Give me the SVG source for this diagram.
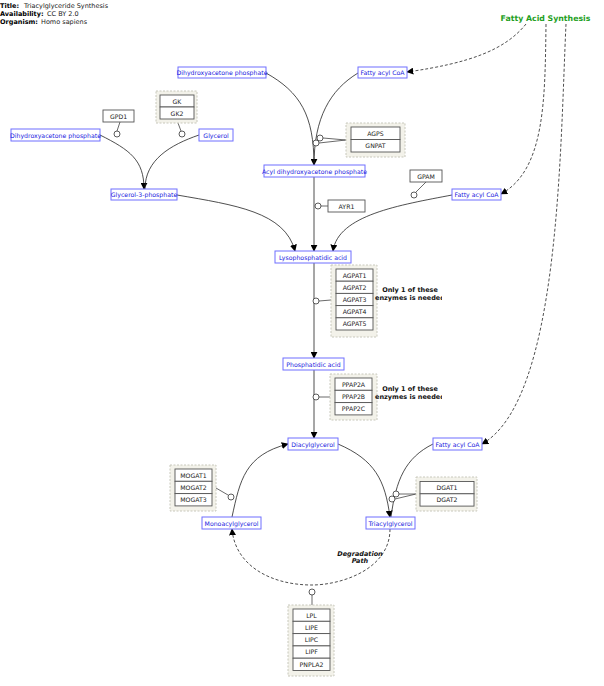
<svg xmlns="http://www.w3.org/2000/svg" width="604" height="686" viewBox="0 0 604 686">
<style>
text{font-family:"DejaVu Sans","Liberation Sans",sans-serif}
.hdr{font-size:6.5px;fill:#222}
.hb{font-weight:bold;fill:#000}
.node rect{fill:#fff;stroke:#6f6fff;stroke-width:1}
.node text{font-size:6.2px;fill:#2020e0;text-anchor:middle}
.gene rect.grp{fill:#f3f2ea;stroke:#c8c8bc;stroke-width:1;stroke-dasharray:2,1.5}
.gene rect{fill:#fff;stroke:#555;stroke-width:0.9}
.gene text{font-size:6.2px;fill:#222;text-anchor:middle}
.edge{fill:none;stroke:#222;stroke-width:0.8}
.dash{fill:none;stroke:#222;stroke-width:0.8;stroke-dasharray:3,2}
.cat{fill:none;stroke:#444;stroke-width:0.8}
.cc{fill:#fff;stroke:#333;stroke-width:0.8}
.note{font-size:6.5px;font-weight:bold;fill:#111}
</style>
<defs>
<marker id="arr" viewBox="0 0 10 10" refX="9" refY="5" markerWidth="7" markerHeight="7" markerUnits="userSpaceOnUse" orient="auto">
<path d="M0,0 L10,5 L0,10 z" fill="#000"/>
</marker>
<clipPath id="noteclip"><rect x="300" y="270" width="142" height="160"/></clipPath>
</defs>

<g id="header">
<text class="hdr hb" x="0" y="8">Title:</text><text class="hdr" x="24" y="8">Triacylglyceride Synthesis</text>
<text class="hdr hb" x="0" y="16">Availability:</text><text class="hdr" x="47" y="16">CC BY 2.0</text>
<text class="hdr hb" x="0" y="24">Organism:</text><text class="hdr" x="41" y="24">Homo sapiens</text>
</g>

<g id="connectors">
<path class="edge" d="M100,135 C130,150 144,160 144,189" marker-end="url(#arr)"/>
<path class="edge" d="M199,135 C170,145 145,160 145,189"/>
<path class="edge" d="M177,195 C235,205 285,212 295,251" marker-end="url(#arr)"/>
<path class="edge" d="M266,73 C300,92 314,115 314,165" marker-end="url(#arr)"/>
<path class="edge" d="M358,73 C330,90 314,118 314,165"/>
<path class="edge" d="M314,177 L314,251" marker-end="url(#arr)"/>
<path class="edge" d="M452,195 C400,205 338,215 333,251" marker-end="url(#arr)"/>
<path class="edge" d="M314,263 L314,358" marker-end="url(#arr)"/>
<path class="edge" d="M314,370 L314,438" marker-end="url(#arr)"/>
<path class="edge" d="M232,517 C240,480 245,455 288,444" marker-end="url(#arr)"/>
<path class="edge" d="M338,444 C375,460 385,480 390,517" marker-end="url(#arr)"/>
<path class="edge" d="M433,444 C405,458 396,480 391,517"/>
<path class="dash" d="M390,529 C390,570 340,585 312,585 C270,585 235,565 232,529" marker-end="url(#arr)"/>
<path class="dash" d="M526,24 C505,50 470,63 407,72" marker-end="url(#arr)"/>
<path class="dash" d="M546,24 C545,100 545,170 501,194" marker-end="url(#arr)"/>
<path class="dash" d="M566,24 C560,150 560,400 482,444" marker-end="url(#arr)"/>
<path class="cat" d="M120,122 L117,131"/>
<path class="cat" d="M178,123 L181,131"/>
<path class="cat" d="M346,140 L323,138 M346,140 L319,143"/>
<path class="cat" d="M426,182 L416,192"/>
<path class="cat" d="M328,206 L321,206"/>
<path class="cat" d="M331,300 L319,301"/>
<path class="cat" d="M330,397 L319,397"/>
<path class="cat" d="M216,488 L228,495"/>
<path class="cat" d="M416,494 L399,494 M416,494 L395,499"/>
<path class="cat" d="M312,605 L312,595" stroke-width="1.5"/>
<circle class="cc" cx="117" cy="134" r="3"/>
<circle class="cc" cx="182" cy="134" r="3"/>
<circle class="cc" cx="320" cy="138" r="3"/>
<circle class="cc" cx="316" cy="143" r="3"/>
<circle class="cc" cx="414" cy="195" r="3"/>
<circle class="cc" cx="318" cy="206" r="3"/>
<circle class="cc" cx="316" cy="301" r="3"/>
<circle class="cc" cx="316" cy="397" r="3"/>
<circle class="cc" cx="231" cy="497" r="3"/>
<circle class="cc" cx="396" cy="494" r="3"/>
<circle class="cc" cx="392" cy="499" r="3"/>
<circle class="cc" cx="312" cy="592" r="3"/>
</g>

<g id="fas"><text x="545.5" y="21" font-size="7.8" font-weight="bold" fill="#1f9f1f" text-anchor="middle">Fatty Acid Synthesis</text></g>

<g id="n-dhap-top" class="node"><rect x="178" y="67" width="88" height="11"/><text x="222" y="75">Dihydroxyacetone phosphate</text></g>
<g id="n-faco-top" class="node"><rect x="358" y="67" width="49" height="11"/><text x="382.5" y="75">Fatty acyl CoA</text></g>
<g id="n-dhap-left" class="node"><rect x="11" y="129" width="89" height="12"/><text x="55.5" y="137.5">Dihydroxyacetone phosphate</text></g>
<g id="n-glycerol" class="node"><rect x="199" y="129" width="34" height="12"/><text x="216" y="137.5">Glycerol</text></g>
<g id="n-g3p" class="node"><rect x="111" y="189" width="66" height="11"/><text x="144" y="197">Glycerol-3-phosphate</text></g>
<g id="n-acyldhap" class="node"><rect x="264" y="165" width="101" height="12"/><text x="314.5" y="173.5">Acyl dihydroxyacetone phosphate</text></g>
<g id="n-faco-mid" class="node"><rect x="452" y="189" width="49" height="11"/><text x="476.5" y="197">Fatty acyl CoA</text></g>
<g id="n-lpa" class="node"><rect x="275" y="251" width="76" height="12"/><text x="313" y="259.5">Lysophosphatidic acid</text></g>
<g id="n-pa" class="node"><rect x="283" y="358" width="61" height="12"/><text x="313.5" y="366.5">Phosphatidic acid</text></g>
<g id="n-dag" class="node"><rect x="288" y="438" width="50" height="12"/><text x="313" y="446.5">Diacylglycerol</text></g>
<g id="n-faco-low" class="node"><rect x="433" y="438" width="49" height="12"/><text x="457.5" y="446.5">Fatty acyl CoA</text></g>
<g id="n-mag" class="node"><rect x="202" y="517" width="59" height="12"/><text x="231.5" y="525.5">Monoacylglycerol</text></g>
<g id="n-tag" class="node"><rect x="366" y="517" width="49" height="12"/><text x="390.5" y="525.5">Triacylglycerol</text></g>

<g id="g-gpd1" class="gene"><rect x="103" y="110" width="31" height="12"/><text x="118.5" y="118.5">GPD1</text></g>
<g id="g-gk" class="gene"><rect class="grp" x="156" y="91" width="41" height="32"/><rect x="160" y="95" width="34" height="12"/><rect x="160" y="107" width="34" height="12"/><text x="177" y="103.5">GK</text><text x="177" y="115.5">GK2</text></g>
<g id="g-agps" class="gene"><rect class="grp" x="346" y="123" width="59" height="34"/><rect x="351" y="127" width="49" height="12.5"/><rect x="351" y="139.5" width="49" height="12.5"/><text x="375.5" y="135.5">AGPS</text><text x="375.5" y="148">GNPAT</text></g>
<g id="g-gpam" class="gene"><rect x="410" y="170" width="32" height="12"/><text x="426" y="178.5">GPAM</text></g>
<g id="g-ayr1" class="gene"><rect x="328" y="200" width="37" height="12"/><text x="346.5" y="208.5">AYR1</text></g>
<g id="g-agpat" class="gene"><rect class="grp" x="331" y="265" width="46" height="72"/>
<rect x="336" y="269" width="37" height="12.2"/><rect x="336" y="281.2" width="37" height="12.2"/><rect x="336" y="293.4" width="37" height="12.2"/><rect x="336" y="305.6" width="37" height="12.2"/><rect x="336" y="317.8" width="37" height="12.2"/>
<text x="354.5" y="277.5">AGPAT1</text><text x="354.5" y="289.7">AGPAT2</text><text x="354.5" y="301.9">AGPAT3</text><text x="354.5" y="314.1">AGPAT4</text><text x="354.5" y="326.3">AGPAT5</text></g>
<g id="g-ppap" class="gene"><rect class="grp" x="330" y="374" width="47" height="46"/>
<rect x="335" y="378" width="37" height="12.3"/><rect x="335" y="390.3" width="37" height="12.3"/><rect x="335" y="402.6" width="37" height="12.3"/>
<text x="353.5" y="386.5">PPAP2A</text><text x="353.5" y="398.8">PPAP2B</text><text x="353.5" y="411.1">PPAP2C</text></g>
<g id="g-mogat" class="gene"><rect class="grp" x="170" y="465" width="46" height="46"/>
<rect x="175" y="469" width="37" height="12.3"/><rect x="175" y="481.3" width="37" height="12.3"/><rect x="175" y="493.6" width="37" height="12.3"/>
<text x="193.5" y="477.5">MOGAT1</text><text x="193.5" y="489.8">MOGAT2</text><text x="193.5" y="502.1">MOGAT3</text></g>
<g id="g-dgat" class="gene"><rect class="grp" x="416" y="477" width="61" height="34"/>
<rect x="420" y="481.5" width="54" height="12.3"/><rect x="420" y="493.8" width="54" height="12.3"/>
<text x="447" y="490">DGAT1</text><text x="447" y="502.3">DGAT2</text></g>
<g id="g-lipase" class="gene"><rect class="grp" x="288" y="605" width="46" height="71"/>
<rect x="293" y="609" width="37" height="12.3"/><rect x="293" y="621.3" width="37" height="12.3"/><rect x="293" y="633.6" width="37" height="12.3"/><rect x="293" y="645.9" width="37" height="12.3"/><rect x="293" y="658.2" width="37" height="12.3"/>
<text x="311.5" y="617.5">LPL</text><text x="311.5" y="629.8">LIPE</text><text x="311.5" y="642.1">LIPC</text><text x="311.5" y="654.4">LIPF</text><text x="311.5" y="666.7">PNPLA2</text></g>

<g id="notes" clip-path="url(#noteclip)">
<text class="note" x="410" y="292" text-anchor="middle">Only 1 of these</text>
<text class="note" x="410" y="299.5" text-anchor="middle">enzymes is needed</text>
<text class="note" x="410" y="391" text-anchor="middle">Only 1 of these</text>
<text class="note" x="410" y="398.5" text-anchor="middle">enzymes is needed</text>
</g>
<g id="degr">
<text class="note" x="360" y="556" text-anchor="middle" font-style="italic">Degradation</text>
<text class="note" x="360" y="563" text-anchor="middle" font-style="italic">Path</text>
</g>
</svg>
